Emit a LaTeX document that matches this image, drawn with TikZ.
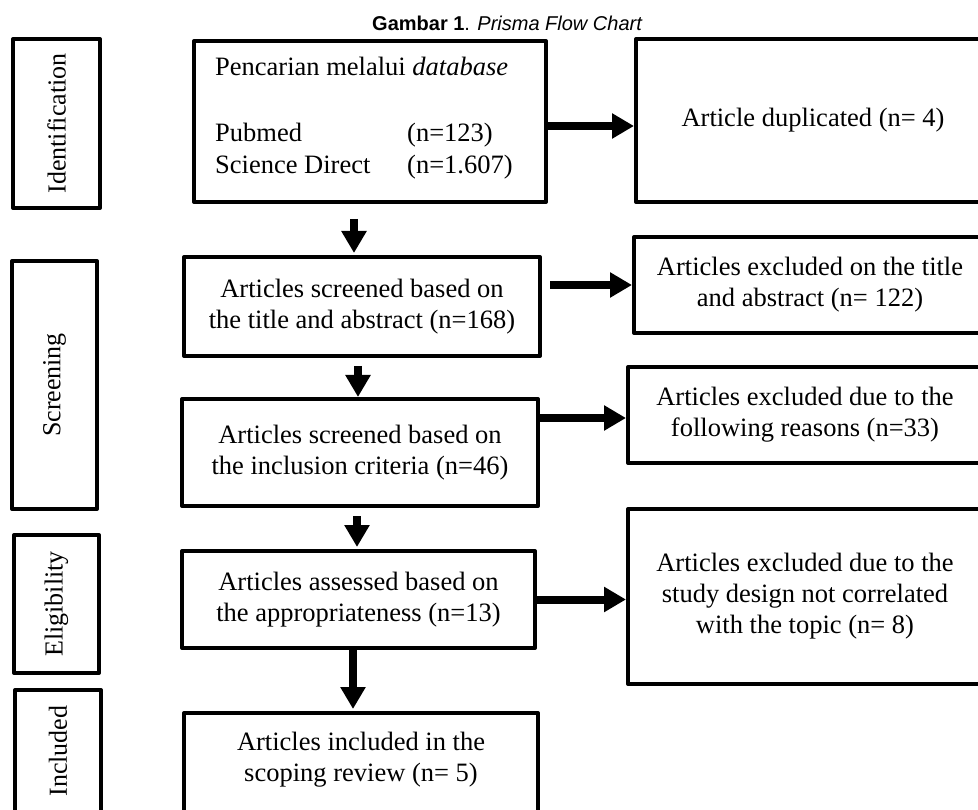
\documentclass[tikz,border=0pt]{standalone}
\usepackage{fontspec}
\setmainfont{Liberation Serif}
\newfontfamily\titlefont{Liberation Sans}
\usetikzlibrary{arrows.meta}
\newcommand{\boxfnt}{\fontsize{26.5}{31}\selectfont}
\newcommand{\labfnt}{\fontsize{26}{30}\selectfont}
\tikzset{
  boxnode/.style={draw, line width=4pt, inner sep=0pt, align=center, font=\boxfnt, line join=round},
  labnode/.style={boxnode, font=\labfnt},
  txt/.style={inner sep=0pt, font=\boxfnt, align=center},
  arr/.style={line width=8pt, -{Triangle[length=22pt,width=24pt]}},
}
\begin{document}
\begin{tikzpicture}[x=1pt,y=-1pt]
\useasboundingbox (0,0) rectangle (978,810);
\clip (0,0) rectangle (978,810);
% title
\node[anchor=base west, inner sep=0pt] (title) at (372,31)
  {\titlefont\fontsize{20}{24}\selectfont\textbf{Gambar 1}. \textit{Prisma Flow Chart}};
% left phase labels
\node[labnode, minimum width=87pt, minimum height=169pt] (id) at (56.5,123.5) {};
\node[rotate=90, txt, font=\labfnt] (idt) at (id.center) {Identification};
\node[labnode, minimum width=85pt, minimum height=248pt] (scr) at (54.5,385) {};
\node[rotate=90, txt, font=\labfnt] (scrt) at (scr.center) {Screening};
\node[labnode, minimum width=85pt, minimum height=138pt] (eli) at (56.5,604) {};
\node[rotate=90, txt, font=\labfnt] (elit) at (eli.center) {Eligibility};
\node[labnode, minimum width=86pt, minimum height=128pt] (inc) at (58,754) {};
\node[rotate=90, txt, font=\labfnt] (inct) at (58,751) {Included};
% main column
\node[boxnode, minimum width=352pt, minimum height=161pt] (b1) at (370,121.5) {};
\node[anchor=base west, txt] (t1a) at (215,76) {Pencarian melalui \textit{database}};
\node[anchor=base west, txt] (t1b) at (215,142) {Pubmed};
\node[anchor=base west, txt] (t1c) at (407,142) {(n=123)};
\node[anchor=base west, txt] (t1d) at (215,174) {Science Direct};
\node[anchor=base west, txt] (t1e) at (407,174) {(n=1.607)};
\node[boxnode, minimum width=356pt, minimum height=99pt] (b2) at (362,306.5)
  {Articles screened based on\\the title and abstract (n=168)};
\node[boxnode, minimum width=356pt, minimum height=107pt] (b3) at (360,452.5)
  {Articles screened based on\\the inclusion criteria (n=46)};
\node[boxnode, minimum width=353pt, minimum height=97pt] (b4) at (358.5,599.5)
  {Articles assessed based on\\the appropriateness (n=13)};
\node[boxnode, minimum width=354pt, minimum height=107pt] (b5) at (361,766.5) {};
\node[txt] (t5) at (361,760) {Articles included in the\\scoping review (n= 5)};
% right column
\node[boxnode, minimum width=354pt, minimum height=163pt] (r1) at (813,120.5)
  {Article duplicated (n= 4)};
\node[boxnode, minimum width=352pt, minimum height=96pt] (r2) at (810,285)
  {Articles excluded on the title\\and abstract (n= 122)};
\node[boxnode, minimum width=354pt, minimum height=96pt] (r3) at (805,415)
  {Articles excluded due to the\\following reasons (n=33)};
\node[boxnode, minimum width=354pt, minimum height=175pt] (r4) at (805,596.5)
  {Articles excluded due to the\\study design not correlated\\with the topic (n= 8)};
% vertical arrows
\draw[arr] ([xshift=-16pt,yshift=-15pt]b1.south) -- ([xshift=-16pt,yshift=2pt]b1.south |- b2.north);
\draw[arr] ([xshift=-4pt,yshift=-8pt]b2.south) -- ([xshift=-4pt]b2.south |- b3.north);
\draw[arr] ([xshift=-3pt,yshift=-8pt]b3.south) -- ([xshift=-3pt,yshift=2pt]b3.south |- b4.north);
\draw[arr] ([xshift=-5.5pt]b4.south) -- ([xshift=-5.5pt,yshift=2pt]b4.south |- b5.north);
% horizontal arrows
\draw[arr] ([yshift=-4.5pt]b1.east) -- ([yshift=-4.5pt]b1.east -| r1.west);
\draw[arr] ([xshift=8pt]b2.east |- r2.west) -- (r2.west);
\draw[arr] ([yshift=-3pt]b3.east |- r3.west) -- ([yshift=-3pt]r3.west);
\draw[arr] (b4.east) -- (b4.east -| r4.west);
\end{tikzpicture}
\end{document}
